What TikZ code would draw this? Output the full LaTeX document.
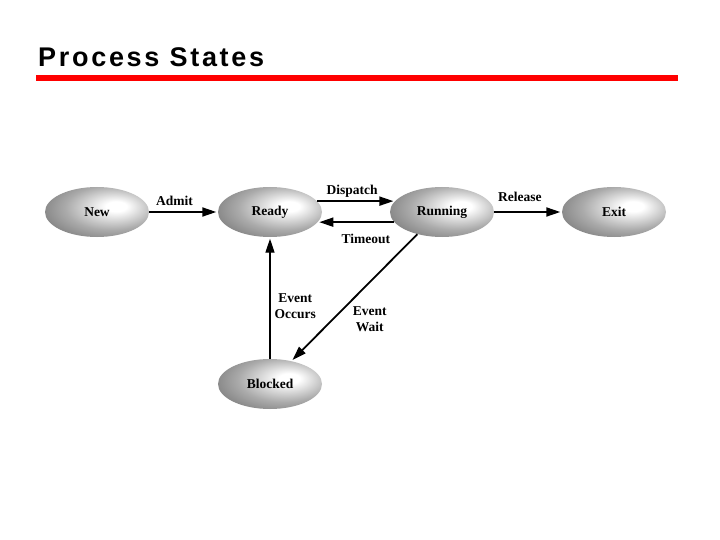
\documentclass[tikz,border=0pt]{standalone}
\usepackage{fontspec}
\setmainfont{Liberation Serif}
\newfontfamily\titlefont[LetterSpace=10]{Liberation Sans}
\usetikzlibrary{arrows.meta,shapes.geometric}
\pgfdeclareradialshading{stateshade}{\pgfpoint{10bp}{6bp}}{color(0bp)=(white); color(5bp)=(white); color(22bp)=(black!33); color(38bp)=(black!56); color(50bp)=(black!66); color(70bp)=(black!72)}
\begin{document}
\begin{tikzpicture}[x=1pt,y=-1pt,
  state/.style={ellipse, shading=stateshade, minimum width=104pt, minimum height=50pt,
    font=\fontsize{13.5}{15}\selectfont\bfseries},
  conn/.style={draw, line width=1.8pt, shorten >=1.5pt, -{Triangle[length=14pt,width=9pt]}},
  lbl/.style={font=\fontsize{13.5}{16}\selectfont\bfseries, align=center, inner sep=1pt}]
\useasboundingbox (0,0) rectangle (720,540);
\node[anchor=base west, inner sep=0pt, font=\titlefont\fontsize{27}{30}\selectfont\bfseries] (title) at (38,67) {Process States};
\fill[red] (36,75) rectangle (678,81);
\node[state] (new) at (97,212) {New};
\node[state] (ready) at (270,212) {Ready};
\node[state] (running) at (442,212) {Running};
\node[state] (exit) at (614,212) {Exit};
\node[state] (blocked) at (270,384) {Blocked};
\draw[conn] (new.east) -- node[lbl, above=4pt, pos=0.37] {Admit} (ready.west);
\draw[conn] (ready.13) -- node[lbl, above=2pt, pos=0.45] {Dispatch} (running.167);
\draw[conn] (running.-168) -- node[lbl, below=10pt, pos=0.37] {Timeout} (ready.-12);
\draw[conn] (running.east) -- node[lbl, above=8pt, pos=0.38] {Release} (exit.west);
\draw[conn, line width=1.3pt] (blocked.north) -- node[lbl, anchor=west, xshift=3pt, pos=0.43] {Event\\Occurs} (ready.south);
\draw[conn] (running.222) -- node[lbl, anchor=west, xshift=18pt, pos=0.67] {Event\\Wait} (blocked.47);
\end{tikzpicture}
\end{document}
